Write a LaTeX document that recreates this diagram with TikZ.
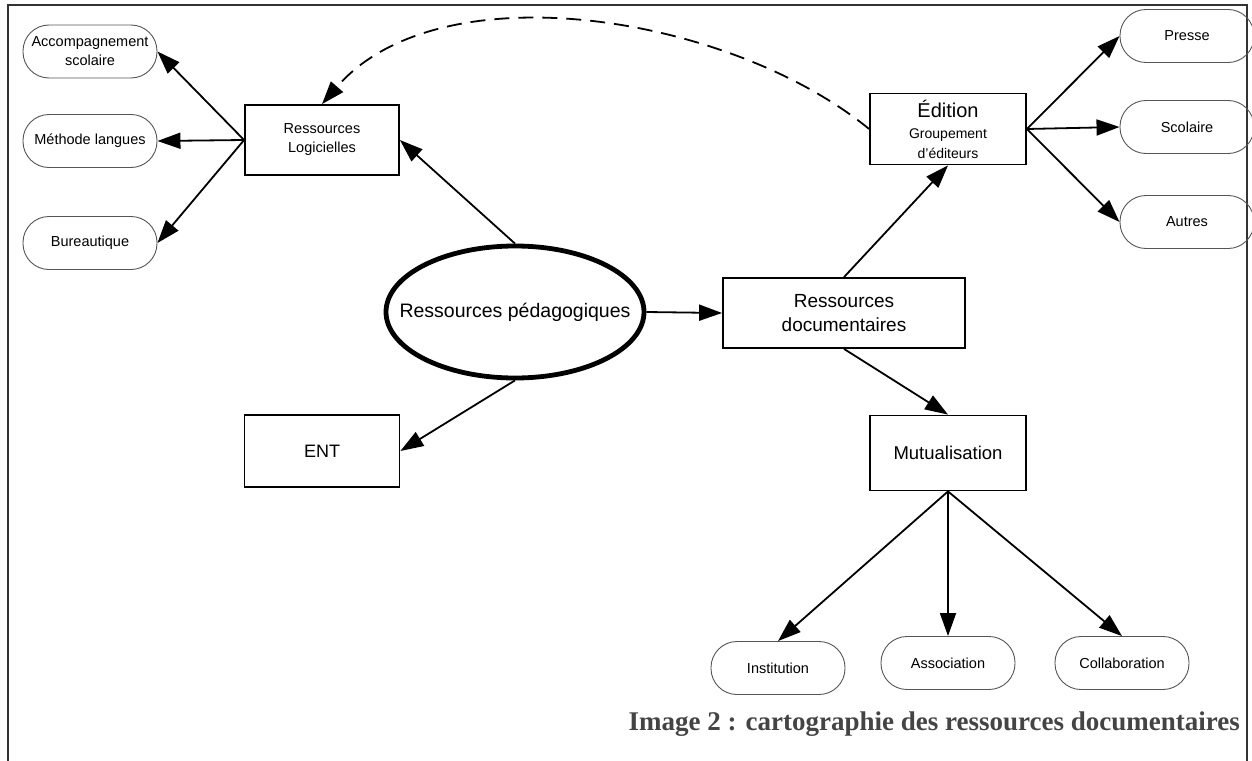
\documentclass[tikz,border=0pt]{standalone}
\usepackage{fontspec}
\setmainfont{Liberation Sans}
\newfontfamily\capfont{Liberation Serif}
\usetikzlibrary{arrows.meta,shapes.geometric}
\definecolor{framegray}{HTML}{333333}
\definecolor{capgray}{HTML}{444444}
\definecolor{ovalgray}{HTML}{555555}
\begin{document}
\begin{tikzpicture}[x=1pt,y=-1pt,
  oval/.style={draw=ovalgray,line width=0.9pt,rectangle,rounded corners=26pt,minimum width=134pt,minimum height=53pt,align=center,inner sep=2pt,font=\fontsize{14.5}{19}\selectfont},
  boxnode/.style={draw=black,line width=1.8pt,rectangle,align=center,inner sep=2pt},
  arr/.style={line width=1.8pt,-{Triangle[length=23pt,width=16pt]}}
]
\useasboundingbox (0,0) rectangle (1252,760);
% frame
\draw[framegray,line width=2.4pt] (8,762) -- (8,5) -- (1247,5) -- (1247,762);

% left ovals
\node[oval] (acc) at (90,51.5) {Accompagnement\\scolaire};
\node[oval] (meth) at (90,141) {Méthode langues};
\node[oval] (bur) at (90,243) {Bureautique};

% boxes
\node[boxnode,minimum width=154pt,minimum height=70pt,font=\fontsize{14.5}{19}\selectfont] (rl) at (322,140) {Ressources\\Logicielles};
\node[draw=black,line width=4.8pt,ellipse,minimum width=258pt,minimum height=132pt,inner sep=0pt,
  label={[font=\fontsize{19.5}{23}\selectfont]center:Ressources pédagogiques}] (ped) at (515,312) {};
\node[boxnode,minimum width=155pt,minimum height=72pt,font=\fontsize{18}{22}\selectfont] (ent) at (322,451) {ENT};
\node[boxnode,minimum width=242pt,minimum height=70pt,font=\fontsize{19}{24}\selectfont] (rd) at (844,313) {Ressources\\documentaires};
\node[boxnode,minimum width=156pt,minimum height=71pt,font=\fontsize{14}{20}\selectfont] (ed) at (948,129) {\fontsize{20}{20}\selectfont Édition\\[1pt]\fontsize{14}{20}\selectfont Groupement\\d’éditeurs};
\node[boxnode,minimum width=156pt,minimum height=75pt,font=\fontsize{18.5}{22}\selectfont] (mut) at (948,453) {Mutualisation};

% right ovals
\node[oval] (pre) at (1187,36) {Presse};
\node[oval] (sco) at (1187,127) {Scolaire};
\node[oval] (aut) at (1187,222) {Autres};

% bottom ovals
\node[oval] (ins) at (778,668) {Institution};
\node[oval] (ass) at (948,663) {Association};
\node[oval] (col) at (1122,663) {Collaboration};

% connectors
\draw[arr] (rl.west) -- (acc.east);
\draw[arr] (rl.west) -- (meth.east);
\draw[arr] (rl.west) -- (bur.east);
\draw[arr] (ped.north) -- (rl.east);
\draw[arr] (ped.south) -- (ent.east);
\draw[arr] (ped.east) -- (rd.west);
\draw[arr] (rd.north) -- (ed.south);
\draw[arr] (rd.south) -- (mut.north);
\draw[arr] (ed.east) -- (pre.west);
\draw[arr] (ed.east) -- (sco.west);
\draw[arr] (ed.east) -- (aut.west);
\draw[arr] (mut.south) -- (ins.north);
\draw[arr] (mut.south) -- (ass.north);
\draw[arr] (mut.south) -- (col.north);
\draw[arr,dash pattern=on 15pt off 9pt] (ed.west) .. controls (730,15) and (440,-32) .. (rl.north);

% caption
\node[anchor=base east,inner sep=0pt,text=capgray,font=\capfont\bfseries\fontsize{27}{30}\selectfont] (cap) at (1240,730) {Image 2 : cartographie des ressources documentaires};
\end{tikzpicture}
\end{document}
